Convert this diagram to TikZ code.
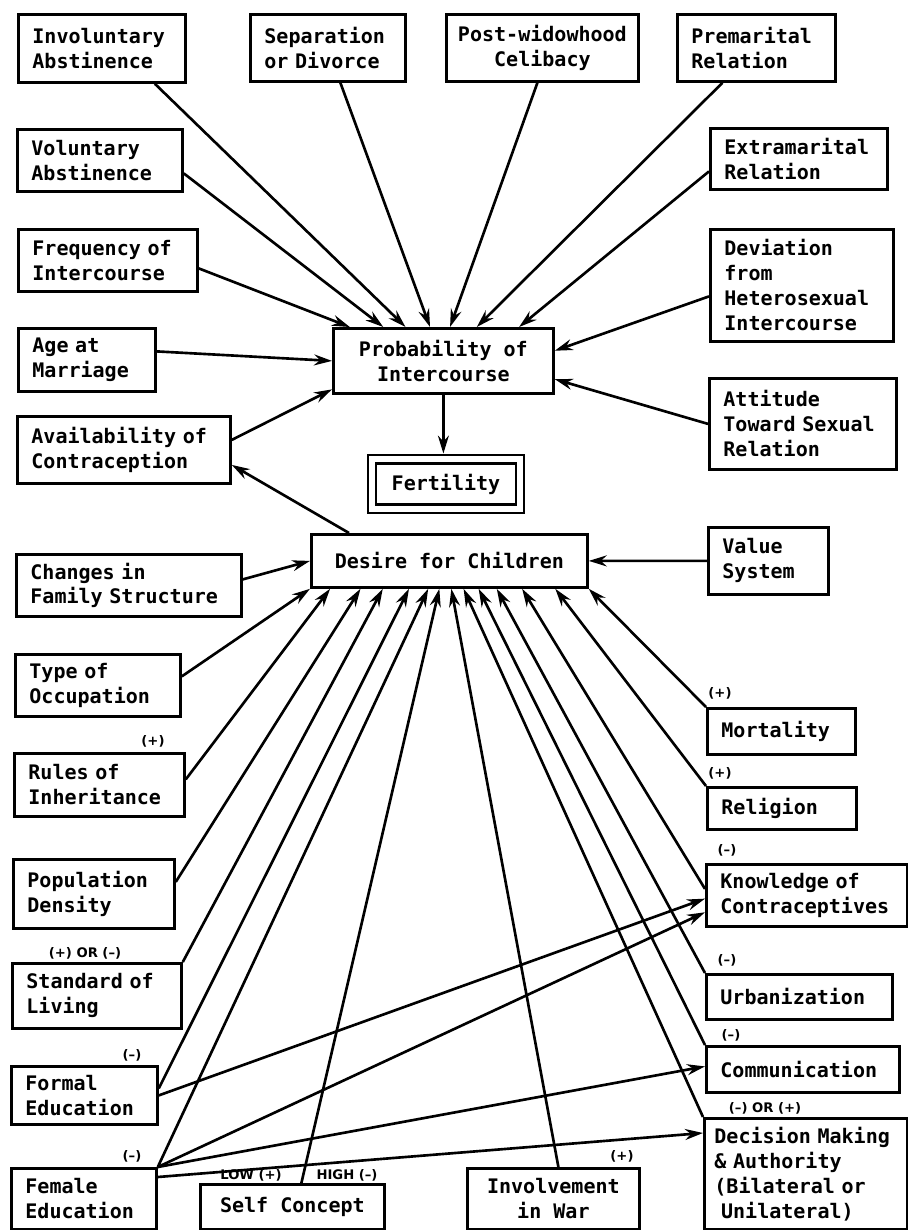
\documentclass[tikz,border=0pt]{standalone}
\usepackage{fontspec}
\setmonofont{DejaVu Sans Mono}
\newfontfamily\signfont{DejaVu Sans}
\usepackage{tikz}
\usetikzlibrary{arrows.meta}
\usetikzlibrary{calc,positioning}

\newcommand{\boxfont}{\ttfamily\bfseries\fontsize{11.4}{14.2}\selectfont}

\begin{document}
\begin{tikzpicture}[x=0.02cm, y=-0.02cm,
    factor/.style={rectangle, draw=black, line width=1.6pt, anchor=north west,
    align=left, inner xsep=0.28cm, inner ysep=0pt, font=\boxfont},
    middle/.style={factor, align=center, inner xsep=0pt},
    sign/.style={inner sep=0pt, font=\signfont\bfseries\fontsize{7.5}{8}\selectfont},
    arr/.style={-{Stealth[length=0.36cm, width=0.22cm, inset=0.12cm]}, line width=1.5pt}]

    \useasboundingbox (0,0) rectangle (908,1230);

    % what acts on intercourse
    \node (invol) [factor, text width=2.78cm, minimum height=1.36cm] at (17,13) {Involuntary\\Abstinence};
    \node (separ) [factor, text width=2.54cm, minimum height=1.34cm] at (249,13) {Separation\\or Divorce};
    \node (widow) [middle, minimum width=3.84cm, minimum height=1.34cm] at (445,13) {Post-widowhood\\Celibacy};
    \node (premar) [factor, text width=2.60cm, minimum height=1.34cm] at (676,13) {Premarital\\Relation};
    \node (volun) [factor, text width=2.74cm, minimum height=1.24cm] at (16,128) {Voluntary\\Abstinence};
    \node (extra) [factor, text width=2.98cm, minimum height=1.22cm] at (709,127) {Extramarital\\Relation};
    \node (freq) [factor, text width=3.02cm, minimum height=1.24cm] at (17,228) {Frequency of\\Intercourse};
    \node (devi) [factor, text width=3.10cm, minimum height=2.24cm] at (709,228) {Deviation\\from\\Heterosexual\\Intercourse};
    \node (age) [factor, text width=2.18cm, minimum height=1.26cm] at (17,327) {Age at\\Marriage};
    \node (prob) [middle, minimum width=4.40cm, minimum height=1.30cm] at (332,327) {Probability of\\Intercourse};
    \node (attit) [factor, text width=3.18cm, minimum height=1.82cm] at (708,377) {Attitude\\Toward Sexual\\Relation};
    \node (avail) [factor, text width=3.70cm, minimum height=1.34cm] at (16,415) {Availability of\\Contraception};

    \node (fert) [rectangle, draw=black, line width=1.4pt, double, double distance=0.12cm,
        minimum width=2.96cm, minimum height=0.99cm, inner sep=0pt, font=\boxfont] at (446,484) {Fertility};

    % what acts on the desire for children
    \node (desire) [middle, minimum width=5.52cm, minimum height=1.06cm] at (310,533) {Desire for Children};
    \node (valsys) [factor, text width=1.84cm, minimum height=1.34cm] at (707,526) {Value\\System};
    \node (changes) [factor, text width=3.94cm, minimum height=1.24cm] at (15,553) {Changes in\\Family Structure};
    \node (typeocc) [factor, text width=2.74cm, minimum height=1.24cm] at (14,653) {Type of\\Occupation};
    \node (rules) [factor, text width=2.84cm, minimum height=1.26cm] at (13,752) {Rules of\\Inheritance};
    \node (mort) [factor, text width=2.40cm, minimum height=0.92cm] at (706,707) {Mortality};
    \node (relig) [factor, text width=2.42cm, minimum height=0.84cm] at (706,786) {Religion};
    \node (popd) [factor, text width=2.66cm, minimum height=1.38cm] at (12,858) {Population\\Density};
    \node (know) [factor, text width=3.46cm, minimum height=1.24cm] at (705,863) {Knowledge of\\Contraceptives};
    \node (stdl) [factor, text width=2.82cm, minimum height=1.30cm] at (11,962) {Standard of\\Living};
    \node (urban) [factor, text width=3.16cm, minimum height=0.90cm] at (705,973) {Urbanization};
    \node (comm) [factor, text width=3.30cm, minimum height=0.92cm] at (705,1045) {Communication};
    \node (formal) [factor, text width=2.36cm, minimum height=1.16cm] at (10,1065) {Formal\\Education};
    \node (decis) [factor, inner xsep=0.2cm, text width=3.66cm, minimum height=2.22cm] at (703,1117) {Decision Making\\\& Authority\\(Bilateral or\\~Unilateral)};
    \node (female) [factor, text width=2.34cm, minimum height=1.22cm] at (10,1167) {Female\\Education};
    \node (selfc) [middle, minimum width=3.68cm, minimum height=0.90cm] at (199,1183) {Self Concept};
    \node (war) [middle, minimum width=3.44cm, minimum height=1.22cm] at (466,1167) {Involvement\\in War};

    % signs
    \node (rulessign) [sign] at (153,741) {(+)};
    \node (stdlsign) [sign] at (85,953) {(+) OR (–)};
    \node (formalsign) [sign] at (132,1055) {(–)};
    \node (femalesign) [sign] at (132,1156) {(–)};
    \node (lowsign) [sign] at (251,1175) {LOW (+)};
    \node (highsign) [sign] at (347,1175) {HIGH (–)};
    \node (warsign) [sign] at (622,1156) {(+)};
    \node (mortsign) [sign] at (720,693) {(+)};
    \node (religsign) [sign] at (720,773) {(+)};
    \node (knowsign) [sign] at (727,850) {(–)};
    \node (urbansign) [sign] at (727,960) {(–)};
    \node (commsign) [sign] at (731,1035) {(–)};
    \node (decissign) [sign] at (765,1108) {(–) OR (+)};

    % into probability of intercourse
    \draw [arr] ([yshift=-0.16cm]freq.east) -- ($(prob.north west)!0.08!(prob.north east)$);
    \draw [arr] ([yshift=-0.26cm]volun.east) -- ($(prob.north west)!0.23!(prob.north east)$);
    \draw [arr] ([xshift=1.06cm]invol.south) -- ($(prob.north west)!0.33!(prob.north east)$);
    \draw [arr] ([xshift=0.25cm]separ.south) -- ($(prob.north west)!0.44!(prob.north east)$);
    \draw [arr] ([xshift=-0.1cm]widow.south) -- ($(prob.north west)!0.53!(prob.north east)$);
    \draw [arr] ([xshift=-0.68cm]premar.south) -- ($(prob.north west)!0.65!(prob.north east)$);
    \draw [arr] ([yshift=-0.25cm]extra.west) -- ($(prob.north west)!0.84!(prob.north east)$);
    \draw [arr] ([yshift=-0.22cm]devi.west) -- ($(prob.north east)!0.35!(prob.south east)$);
    \draw [arr] (attit.west) -- ($(prob.north east)!0.77!(prob.south east)$);
    \draw [arr] ([yshift=0.17cm]age.east) -- (prob.west);
    \draw [arr] ([yshift=0.2cm]avail.east) -- ($(prob.north west)!0.92!(prob.south west)$);
    \draw [arr] ($(desire.north west)!0.14!(desire.north east)$) -- ([yshift=-0.3cm]avail.east);
    \draw [arr] (prob.south) -- ([yshift=0.09cm]prob.south |- fert.north);

    % into desire for children
    \draw [arr] ([yshift=0.12cm]changes.east) -- (desire.west);
    \draw [arr] (valsys.west) -- (desire.east);
    \draw [arr] ([yshift=0.18cm]typeocc.east) -- (desire.south west);
    \draw [arr] ([yshift=0.11cm]rules.east) -- ($(desire.south west)!0.072!(desire.south east)$);
    \draw [arr] ([yshift=0.24cm]popd.east) -- ($(desire.south west)!0.181!(desire.south east)$);
    \draw [arr] (stdl.north east) -- ($(desire.south west)!0.261!(desire.south east)$);
    \draw [arr] ([yshift=0.14cm]formal.east) -- ($(desire.south west)!0.355!(desire.south east)$);
    \draw [arr] (female.north east) -- ($(desire.south west)!0.424!(desire.south east)$);
    \draw [arr] ([xshift=0.18cm]selfc.north) -- ($(desire.south west)!0.464!(desire.south east)$);
    \draw [arr] ([xshift=0.1cm]war.north) -- ($(desire.south west)!0.507!(desire.south east)$);
    \draw [arr] (decis.north west) -- ($(desire.south west)!0.551!(desire.south east)$);
    \draw [arr] (comm.north west) -- ($(desire.south west)!0.605!(desire.south east)$);
    \draw [arr] (urban.north west) -- ($(desire.south west)!0.67!(desire.south east)$);
    \draw [arr] ($(know.north west)!0.4!(know.south west)$) -- ($(desire.south west)!0.761!(desire.south east)$);
    \draw [arr] (relig.north west) -- ($(desire.south west)!0.88!(desire.south east)$);
    \draw [arr] (mort.north west) -- (desire.south east);

    % education on the right hand factors
    \draw [arr] (formal.east) -- ($(know.north west)!0.55!(know.south west)$);
    \draw [arr] (female.north east) -- ($(know.north west)!0.76!(know.south west)$);
    \draw [arr] (female.north east) -- ([yshift=0.06cm]comm.west);
    \draw [arr] ([yshift=-0.2cm]female.north east) -- ([yshift=-0.32cm]decis.north west);
\end{tikzpicture}
\end{document}
